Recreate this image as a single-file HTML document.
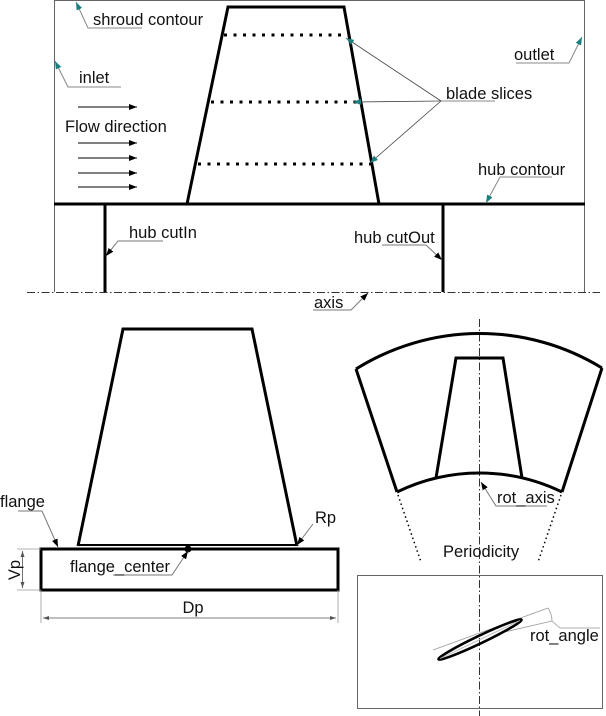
<!DOCTYPE html>
<html>
<head>
<meta charset="utf-8">
<style>
  html, body { margin: 0; padding: 0; background: #fff; }
  svg { display: block; }
  text { font-family: "Liberation Sans", "DejaVu Sans", sans-serif; font-size: 16.5px; fill: #111; }
</style>
</head>
<body>
<svg width="606" height="716" viewBox="0 0 606 716" xmlns="http://www.w3.org/2000/svg">
  <defs>
    <marker id="ta" markerUnits="userSpaceOnUse" markerWidth="8" markerHeight="6" refX="8" refY="3" orient="auto">
      <path d="M0,0 L8,3 L0,6 z" fill="#1a7f7f"/>
    </marker>
    <marker id="ba" markerUnits="userSpaceOnUse" markerWidth="8" markerHeight="6" refX="8" refY="3" orient="auto">
      <path d="M0,0 L8,3 L0,6 z" fill="#000"/>
    </marker>
    <marker id="da" markerUnits="userSpaceOnUse" markerWidth="6" markerHeight="4" refX="6" refY="2" orient="auto">
      <path d="M0,0 L6,2 L0,4 z" fill="#555"/>
    </marker>
    <marker id="ds" markerUnits="userSpaceOnUse" markerWidth="6" markerHeight="4" refX="0" refY="2" orient="auto">
      <path d="M6,0 L0,2 L6,4 z" fill="#555"/>
    </marker>
  </defs>

  <!-- ===== TOP DIAGRAM ===== -->
  <g stroke="#666" stroke-width="1" fill="none">
    <line x1="54.5" y1="0.5" x2="584.5" y2="0.5"/>
    <line x1="54.5" y1="0" x2="54.5" y2="292"/>
    <line x1="584.5" y1="0" x2="584.5" y2="292"/>
  </g>
  <line x1="27" y1="292.5" x2="600" y2="292.5" stroke="#333" stroke-width="1" stroke-dasharray="8 2.5 1.5 2.5"/>
  <line x1="54" y1="204" x2="585" y2="204" stroke="#000" stroke-width="3"/>
  <line x1="105" y1="204" x2="105" y2="292" stroke="#000" stroke-width="3"/>
  <line x1="443" y1="204" x2="443" y2="292" stroke="#000" stroke-width="3"/>
  <polyline points="187,204 228,7 344,7 379,204" fill="none" stroke="#000" stroke-width="3" stroke-linejoin="miter"/>
  <g stroke="#000" stroke-width="3" stroke-dasharray="3 6.5">
    <line x1="224" y1="35" x2="348" y2="35"/>
    <line x1="211" y1="102" x2="359" y2="102"/>
    <line x1="198" y1="164" x2="371" y2="164"/>
  </g>
  <g stroke="#000" stroke-width="1" marker-end="url(#ba)">
    <line x1="78" y1="107" x2="137" y2="107"/>
    <line x1="78" y1="143" x2="137" y2="143"/>
    <line x1="78" y1="158" x2="137" y2="158"/>
    <line x1="78" y1="173" x2="137" y2="173"/>
    <line x1="78" y1="187" x2="137" y2="187"/>
  </g>

  <g fill="none" stroke="#888" stroke-width="1">
    <polyline points="142,28 88,28 76,2" marker-end="url(#ta)"/>
    <polyline points="121,87 68,87 55,61" marker-end="url(#ta)"/>
    <polyline points="516,63 569,63 582,37" marker-end="url(#ta)"/>
    <polyline points="552,177 500,177 486,203" marker-end="url(#ta)"/>
    <line x1="441" y1="101" x2="495" y2="101"/>
  </g>
  <g fill="none" stroke="#444" stroke-width="0.8">
    <line x1="441" y1="101" x2="346" y2="38" marker-end="url(#ta)"/>
    <line x1="441" y1="101" x2="353" y2="102" marker-end="url(#ta)"/>
    <line x1="441" y1="101" x2="370" y2="163" marker-end="url(#ta)"/>
  </g>
  <g fill="none" stroke="#777" stroke-width="1">
    <polyline points="163,241 118,241 106,256" marker-end="url(#ba)"/>
    <polyline points="382,245 426,245 442,260" marker-end="url(#ba)"/>
    <polyline points="313,310 351,310 368,293" marker-end="url(#ba)"/>
  </g>

  <text x="93" y="25">shroud contour</text>
  <text x="79" y="83">inlet</text>
  <text x="65" y="132">Flow direction</text>
  <text x="446" y="99">blade slices</text>
  <text x="514" y="60">outlet</text>
  <text x="478" y="175">hub contour</text>
  <text x="129" y="238">hub cutIn</text>
  <text x="354" y="243">hub cutOut</text>
  <text x="314" y="308">axis</text>

  <!-- ===== BOTTOM LEFT ===== -->
  <polyline points="78,546 123,329 252,329 297,546" fill="none" stroke="#000" stroke-width="3"/>
  <line x1="78" y1="545" x2="298" y2="545" stroke="#000" stroke-width="2"/>
  <rect x="41" y="549" width="297" height="41" fill="none" stroke="#000" stroke-width="3"/>
  <circle cx="188" cy="549" r="3.5" fill="#000"/>

  <g stroke="#999" stroke-width="0.8">
    <line x1="17" y1="549" x2="41" y2="549"/>
    <line x1="17" y1="590" x2="41" y2="590"/>
    <line x1="41" y1="590" x2="41" y2="623"/>
    <line x1="338" y1="590" x2="338" y2="623"/>
  </g>
  <line x1="22.5" y1="551" x2="22.5" y2="588" stroke="#555" stroke-width="0.8" marker-start="url(#ds)" marker-end="url(#da)"/>
  <line x1="43" y1="618" x2="336" y2="618" stroke="#555" stroke-width="0.8" marker-start="url(#ds)" marker-end="url(#da)"/>
  <text transform="translate(20,570) rotate(-90)" text-anchor="middle">Vp</text>
  <text x="193" y="613" text-anchor="middle">Dp</text>

  <g fill="none" stroke="#777" stroke-width="1">
    <polyline points="18,511 42,511 58,547" marker-end="url(#ba)"/>
    <line x1="313" y1="524" x2="297" y2="545" marker-end="url(#ba)"/>
    <polyline points="113,575 172,575 188,551" marker-end="url(#ba)"/>
  </g>
  <text x="0" y="507">flange</text>
  <text x="315" y="523">Rp</text>
  <text x="70" y="572">flange_center</text>

  <!-- ===== BOTTOM RIGHT ===== -->
  <line x1="479.5" y1="319" x2="479.5" y2="716" stroke="#333" stroke-width="1" stroke-dasharray="8 2.5 1.5 2.5"/>
  <path d="M356,369 A233.6,233.6 0 0 1 602,368" fill="none" stroke="#000" stroke-width="3"/>
  <path d="M397,492 A188.6,188.6 0 0 1 562,492" fill="none" stroke="#000" stroke-width="3"/>
  <line x1="356" y1="369" x2="397" y2="492" stroke="#000" stroke-width="3"/>
  <line x1="602" y1="368" x2="562" y2="492" stroke="#000" stroke-width="3"/>
  <polyline points="436,478 456,358 503,358 522,478" fill="none" stroke="#000" stroke-width="3"/>
  <g stroke="#000" stroke-width="1.5" stroke-dasharray="1.5 3">
    <line x1="398" y1="495" x2="421" y2="562"/>
    <line x1="561" y1="495" x2="538" y2="562"/>
  </g>
  <g fill="none" stroke="#777" stroke-width="1">
    <polyline points="547,506 496,506 481,482" marker-end="url(#ba)"/>
  </g>
  <text x="497" y="503">rot_axis</text>
  <text x="443" y="557">Periodicity</text>

  <rect x="357.5" y="575.5" width="245" height="133" fill="none" stroke="#666" stroke-width="1"/>
  <g stroke="#999" stroke-width="0.8" fill="none">
    <line x1="433" y1="650" x2="548" y2="608"/>
    <line x1="500" y1="633" x2="552" y2="621"/>
    <path d="M548,608 Q552,614 552,621"/>
    <polyline points="552,621 560,628 600,628"/>
  </g>
  <g transform="translate(480,639.5) rotate(-25.5)">
    <ellipse cx="0" cy="0" rx="46" ry="3.8" fill="none" stroke="#000" stroke-width="2.6"/>
    <line x1="-44" y1="0" x2="44" y2="0" stroke="#bbb" stroke-width="1"/>
  </g>
  <text x="530" y="641">rot_angle</text>
</svg>
</body>
</html>
